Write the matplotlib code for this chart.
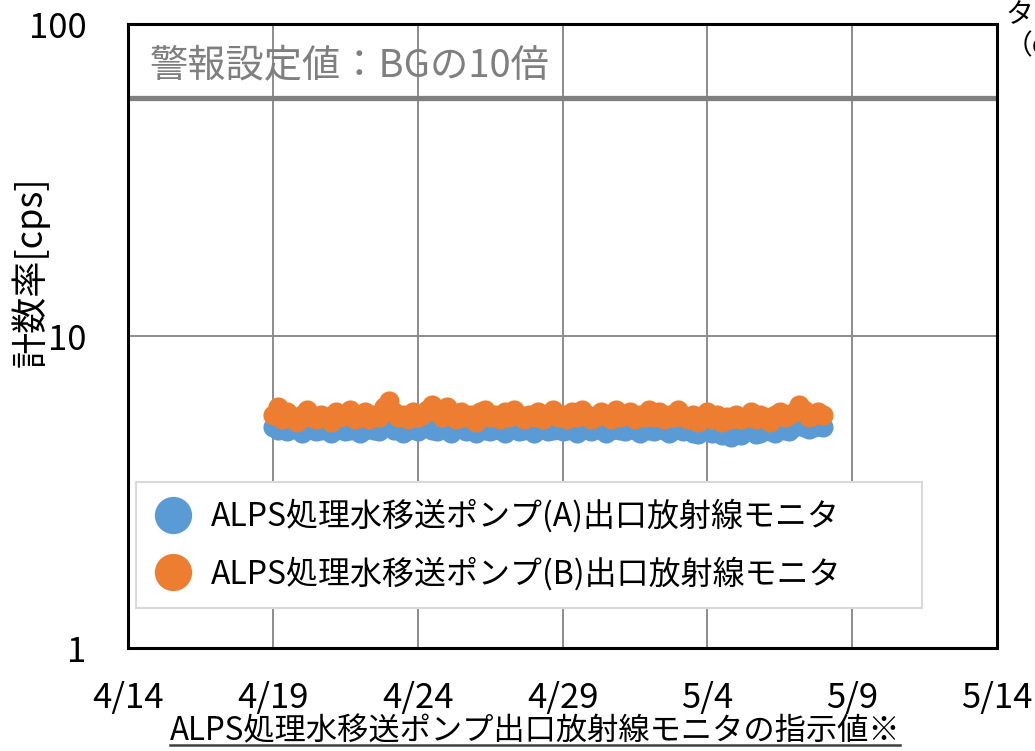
import matplotlib
matplotlib.use("Agg")
import matplotlib.pyplot as plt
from matplotlib.lines import Line2D
import pandas as pd

plt.rcParams['font.family'] = ['Noto Sans CJK JP', 'DejaVu Sans']

# ---- data ----
start = "2024-04-19 00:00"
n_points = 115
times = pd.date_range(start, periods=n_points, freq="4h")

pump_a = [5.1, 5.0, 5.2, 4.95, 5.05, 5.1, 4.9, 5.0, 5.1, 4.95, 5.0, 5.1,
          4.9, 5.0, 5.1, 4.95, 5.0, 5.05, 4.9, 5.0, 5.1, 5.0, 4.95, 5.1,
          5.2, 5.0, 5.1, 4.9, 5.0, 5.05, 4.95, 5.1, 5.2, 5.0, 4.95, 5.1,
          5.0, 4.9, 5.05, 5.1, 4.95, 5.0, 4.9, 5.1, 5.0, 4.95, 5.05, 5.0,
          4.9, 5.0, 5.1, 4.95, 5.0, 5.05, 4.9, 5.0, 5.1, 4.95, 5.0, 5.05,
          4.95, 5.0, 5.1, 4.9, 5.0, 5.05, 4.95, 5.1, 5.0, 4.9, 5.0, 5.05,
          5.0, 4.95, 5.1, 5.0, 4.9, 5.05, 5.0, 4.95, 5.1, 5.0, 4.9, 5.0,
          5.05, 4.95, 5.0, 4.9, 4.85, 5.0, 4.95, 4.9, 5.0, 4.8, 4.85, 4.75,
          4.9, 4.8, 4.95, 5.0, 4.85, 4.9, 5.0, 4.95, 4.9, 5.05, 5.0, 4.95,
          5.1, 5.2, 5.1, 5.05, 5.1, 5.15, 5.1]

pump_b = [5.6, 5.9, 5.4, 5.7, 5.5, 5.3, 5.6, 5.8, 5.5, 5.4, 5.6, 5.5,
          5.3, 5.7, 5.5, 5.6, 5.8, 5.4, 5.5, 5.7, 5.4, 5.6, 5.5, 5.9,
          6.2, 5.7, 5.5, 5.6, 5.4, 5.7, 5.5, 5.6, 5.8, 6.0, 5.7, 5.5,
          5.9, 5.6, 5.4, 5.7, 5.5, 5.6, 5.3, 5.7, 5.8, 5.5, 5.6, 5.4,
          5.7, 5.5, 5.8, 5.6, 5.4, 5.6, 5.5, 5.7, 5.4, 5.6, 5.8, 5.5,
          5.6, 5.4, 5.7, 5.5, 5.8, 5.6, 5.4, 5.5, 5.7, 5.6, 5.4, 5.8,
          5.5, 5.6, 5.7, 5.4, 5.6, 5.5, 5.8, 5.5, 5.7, 5.4, 5.6, 5.5,
          5.8, 5.5, 5.4, 5.6, 5.3, 5.5, 5.7, 5.4, 5.6, 5.3, 5.5, 5.4,
          5.6, 5.4, 5.5, 5.7, 5.4, 5.6, 5.5, 5.3, 5.6, 5.7, 5.5, 5.6,
          5.7, 6.0, 5.8, 5.5, 5.6, 5.7, 5.6]

alarm_level = 58
alarm_label = "警報設定値：BGの10倍"
series_labels = ["ALPS処理水移送ポンプ(A)出口放射線モニタ",
                 "ALPS処理水移送ポンプ(B)出口放射線モニタ"]
x_ticks = pd.to_datetime(["2024-04-14", "2024-04-19", "2024-04-24", "2024-04-29",
                          "2024-05-04", "2024-05-09", "2024-05-14"])
x_ticklabels = ["4/14", "4/19", "4/24", "4/29", "5/4", "5/9", "5/14"]
y_ticks = [1, 10, 100]
y_ticklabels = ["1", "10", "100"]
ylabel = "計数率[cps]"
title = "ALPS処理水移送ポンプ出口放射線モニタの指示値※"

# ---- figure ----
fig = plt.figure(figsize=(10.35, 7.51), dpi=100)
ax = fig.add_axes([128/1035, 1-648/751, (997-128)/1035, (648-24)/751])

ax.set_yscale("log")
ax.set_ylim(1, 100)
ax.set_xlim(x_ticks[0], x_ticks[-1])

ax.plot(times, pump_a, 'o', color="#5b9bd5", ms=14.5, mec="none", zorder=3, label=series_labels[0])
ax.plot(times, pump_b, 'o', color="#ed7d31", ms=14.5, mec="none", zorder=4, label=series_labels[1])

ax.axhline(alarm_level, color="#808080", lw=3.8, zorder=2)
ax.text(0.025, 0.933, alarm_label, transform=ax.transAxes, fontsize=27.5,
        color="#7f7f7f", va="center", ha="left")

ax.set_xticks(x_ticks)
ax.set_xticklabels(x_ticklabels)
ax.set_yticks(y_ticks)
ax.set_yticklabels(y_ticklabels)
ax.yaxis.set_minor_locator(matplotlib.ticker.NullLocator())
ax.tick_params(axis='both', length=0, labelsize=25)
ax.tick_params(axis='x', pad=24)
ax.tick_params(axis='y', pad=30)

ax.grid(True, which='major', color="#8c8c8c", lw=1.4)
ax.set_axisbelow(True)
for s in ax.spines.values():
    s.set_linewidth(2.2)
    s.set_color("black")

fig.text(30/1035, 1-272/751, ylabel, fontsize=26, rotation=90, ha="center", va="center")

leg = ax.legend(loc="lower left", bbox_to_anchor=(0.009, 0.064, 0.9045, 0.2), mode="expand",
                fontsize=23, markerscale=1.85, frameon=True, fancybox=False, borderpad=0.55,
                labelspacing=0.75, handlelength=1.2, handletextpad=0.6, borderaxespad=0,
                framealpha=1)
leg.get_frame().set_edgecolor("#d9d9d9")
leg.get_frame().set_linewidth(1.5)

# clipped text at top right
fig.text(1005/1035, 1-15/751, "タンク水位", fontsize=20, va="center", ha="left")
fig.text(1005/1035, 1-46/751, "（cm）", fontsize=20, va="center", ha="left")

# underlined caption
t = fig.text(0.517, 1-731/751, title, fontsize=22.5, ha="center", va="center")
fig.canvas.draw()
bb = t.get_window_extent(fig.canvas.get_renderer())
x0, x1 = bb.x0 / fig.bbox.width, bb.x1 / fig.bbox.width
yl = (bb.y0 + 2) / fig.bbox.height
fig.add_artist(Line2D([x0, x1], [yl, yl], color="#404040", lw=1.8, transform=fig.transFigure))

fig.savefig("out.png", dpi=100)
